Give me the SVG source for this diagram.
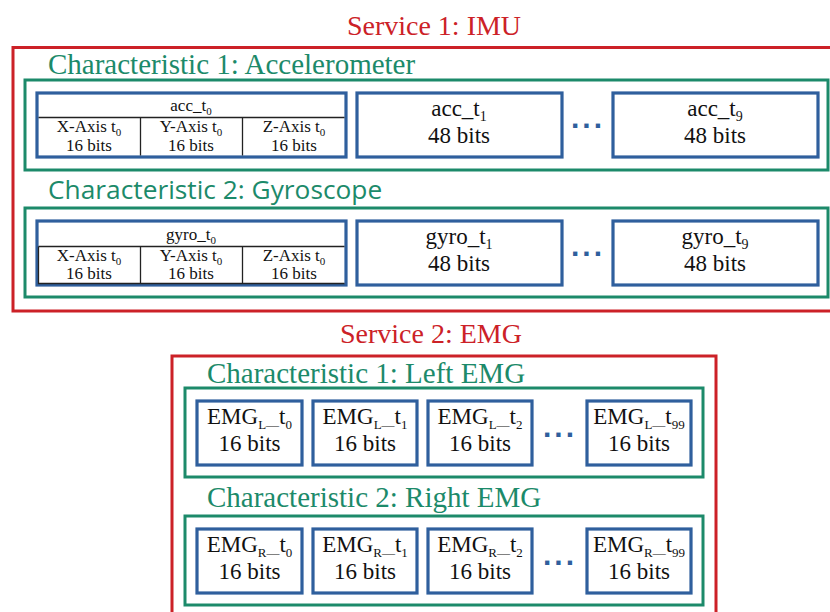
<svg xmlns="http://www.w3.org/2000/svg" width="830" height="612" viewBox="0 0 830 612">
<style>
.svc{fill:none;stroke:#cc2127;stroke-width:3}
.chr{fill:none;stroke:#1c8a6a;stroke-width:3}
.box{fill:#fff;stroke:#2f5f9d;stroke-width:3.2}
.grid{fill:none;stroke:#222;stroke-width:1.3}
.svct{font-family:"Liberation Serif",serif;font-size:28px;fill:#cc2127;text-anchor:middle}
.chrt{font-family:"Liberation Serif",serif;font-size:29px;fill:#1c8a6a}
.chrs{font-family:"Open Sans",sans-serif;font-size:26.3px;fill:#1c8a6a}
.big{font-family:"Liberation Serif",serif;font-size:23px;fill:#111;text-anchor:middle}
.sm{font-family:"Liberation Serif",serif;font-size:17px;fill:#111;text-anchor:middle}
.dots{font-family:"Liberation Sans",sans-serif;font-weight:bold;font-size:30px;fill:#2f5f9d;text-anchor:middle;letter-spacing:3px}
</style>
<rect width="830" height="612" fill="#fff"/>

<g id="service1">
<text class="svct" x="434" y="35">Service 1: IMU</text>
<rect class="svc" x="13" y="47.5" width="830" height="263.5"/>
</g>

<g id="char1">
<text class="chrt" x="48" y="74">Characteristic 1: Accelerometer</text>
<rect class="chr" x="25" y="80" width="803" height="90"/>
</g>

<g id="acc_t0">
<rect class="box" x="37" y="93" width="309" height="64"/>
<path class="grid" d="M38.5 117.5H344.5M140.5 117.5V155.5M242.5 117.5V155.5"/>
<text class="sm" x="191" y="111">acc_t<tspan font-size="11" dy="4">0</tspan></text>
<text class="sm" x="89" y="132">X-Axis t<tspan font-size="11" dy="4">0</tspan></text>
<text class="sm" x="89" y="151">16 bits</text>
<text class="sm" x="191" y="132">Y-Axis t<tspan font-size="11" dy="4">0</tspan></text>
<text class="sm" x="191" y="151">16 bits</text>
<text class="sm" x="294" y="132">Z-Axis t<tspan font-size="11" dy="4">0</tspan></text>
<text class="sm" x="294" y="151">16 bits</text>
</g>

<g id="acc_t1">
<rect class="box" x="357" y="93" width="205" height="64"/>
<text class="big" x="459" y="116">acc_t<tspan font-size="14" dy="5">1</tspan></text>
<text class="big" x="459" y="143">48 bits</text>
</g>
<g id="acc_dots"><text class="dots" x="588" y="128">...</text></g>
<g id="acc_t9">
<rect class="box" x="613" y="93" width="205" height="64"/>
<text class="big" x="715" y="116">acc_t<tspan font-size="14" dy="5">9</tspan></text>
<text class="big" x="715" y="143">48 bits</text>
</g>

<g id="char2">
<text class="chrs" x="48" y="199">Characteristic 2: Gyroscope</text>
<rect class="chr" x="25" y="208" width="803" height="89"/>
</g>

<g id="gyro_t0">
<rect class="box" x="37" y="221" width="309" height="64"/>
<path class="grid" d="M38.5 246.5H344.5M140.5 246.5V283.5M242.5 246.5V283.5M38.5 246.5V283.5H344.5"/>
<text class="sm" x="191" y="240">gyro_t<tspan font-size="11" dy="4">0</tspan></text>
<text class="sm" x="89" y="261">X-Axis t<tspan font-size="11" dy="4">0</tspan></text>
<text class="sm" x="89" y="279">16 bits</text>
<text class="sm" x="191" y="261">Y-Axis t<tspan font-size="11" dy="4">0</tspan></text>
<text class="sm" x="191" y="279">16 bits</text>
<text class="sm" x="294" y="261">Z-Axis t<tspan font-size="11" dy="4">0</tspan></text>
<text class="sm" x="294" y="279">16 bits</text>
</g>

<g id="gyro_t1">
<rect class="box" x="357" y="221" width="205" height="64"/>
<text class="big" x="459" y="244">gyro_t<tspan font-size="14" dy="5">1</tspan></text>
<text class="big" x="459" y="271">48 bits</text>
</g>
<g id="gyro_dots"><text class="dots" x="588" y="256">...</text></g>
<g id="gyro_t9">
<rect class="box" x="613" y="221" width="205" height="64"/>
<text class="big" x="715" y="244">gyro_t<tspan font-size="14" dy="5">9</tspan></text>
<text class="big" x="715" y="271">48 bits</text>
</g>

<g id="service2">
<text class="svct" x="431" y="343">Service 2: EMG</text>
<rect class="svc" x="172" y="356" width="544" height="270"/>
</g>

<g id="char3">
<text class="chrt" x="207" y="383">Characteristic 1: Left EMG</text>
<rect class="chr" x="185" y="388" width="518" height="89"/>
</g>

<g id="emgL_t0">
<rect class="box" x="197" y="401" width="105" height="64"/>
<text class="big" x="249.5" y="424">EMG<tspan font-size="13" dy="5">L—</tspan><tspan dy="-5">t</tspan><tspan font-size="13" dy="5">0</tspan></text>
<text class="big" x="249.5" y="451">16 bits</text>
</g>
<g id="emgL_t1">
<rect class="box" x="313" y="401" width="104" height="64"/>
<text class="big" x="365" y="424">EMG<tspan font-size="13" dy="5">L—</tspan><tspan dy="-5">t</tspan><tspan font-size="13" dy="5">1</tspan></text>
<text class="big" x="365" y="451">16 bits</text>
</g>
<g id="emgL_t2">
<rect class="box" x="428" y="401" width="104" height="64"/>
<text class="big" x="480" y="424">EMG<tspan font-size="13" dy="5">L—</tspan><tspan dy="-5">t</tspan><tspan font-size="13" dy="5">2</tspan></text>
<text class="big" x="480" y="451">16 bits</text>
</g>
<g id="emgL_dots"><text class="dots" x="560" y="437">...</text></g>
<g id="emgL_t99">
<rect class="box" x="587" y="401" width="104" height="64"/>
<text class="big" x="639" y="424">EMG<tspan font-size="13" dy="5">L—</tspan><tspan dy="-5">t</tspan><tspan font-size="13" dy="5">99</tspan></text>
<text class="big" x="639" y="451">16 bits</text>
</g>

<g id="char4">
<text class="chrt" x="207" y="507">Characteristic 2: Right EMG</text>
<rect class="chr" x="185" y="516" width="518" height="89"/>
</g>

<g id="emgR_t0">
<rect class="box" x="197" y="529" width="105" height="64"/>
<text class="big" x="249.5" y="552">EMG<tspan font-size="13" dy="5">R—</tspan><tspan dy="-5">t</tspan><tspan font-size="13" dy="5">0</tspan></text>
<text class="big" x="249.5" y="579">16 bits</text>
</g>
<g id="emgR_t1">
<rect class="box" x="313" y="529" width="104" height="64"/>
<text class="big" x="365" y="552">EMG<tspan font-size="13" dy="5">R—</tspan><tspan dy="-5">t</tspan><tspan font-size="13" dy="5">1</tspan></text>
<text class="big" x="365" y="579">16 bits</text>
</g>
<g id="emgR_t2">
<rect class="box" x="428" y="529" width="104" height="64"/>
<text class="big" x="480" y="552">EMG<tspan font-size="13" dy="5">R—</tspan><tspan dy="-5">t</tspan><tspan font-size="13" dy="5">2</tspan></text>
<text class="big" x="480" y="579">16 bits</text>
</g>
<g id="emgR_dots"><text class="dots" x="560" y="565">...</text></g>
<g id="emgR_t99">
<rect class="box" x="587" y="529" width="104" height="64"/>
<text class="big" x="639" y="552">EMG<tspan font-size="13" dy="5">R—</tspan><tspan dy="-5">t</tspan><tspan font-size="13" dy="5">99</tspan></text>
<text class="big" x="639" y="579">16 bits</text>
</g>

<g id="connectors"></g>
</svg>
